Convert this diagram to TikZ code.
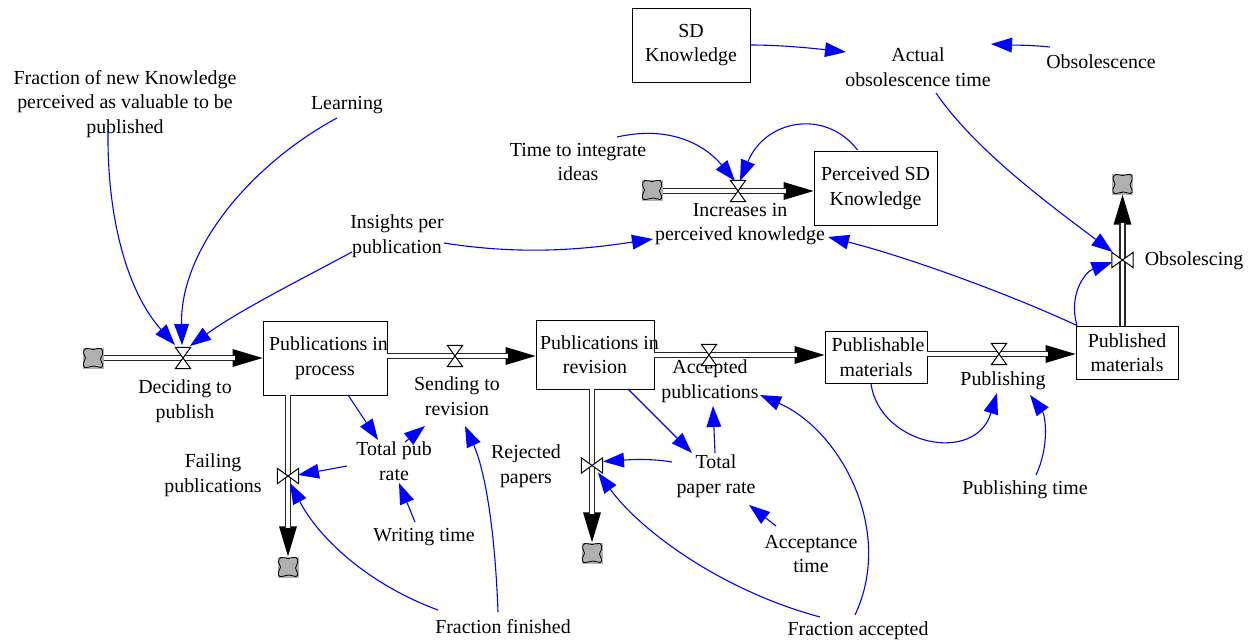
\documentclass[tikz,border=0pt]{standalone}
\usepackage{fontspec}
\setmainfont{Liberation Serif}
\usetikzlibrary{arrows.meta}
\definecolor{linkblue}{RGB}{0,0,255}
\definecolor{cloudgray}{RGB}{176,176,176}
\tikzset{
  x=1pt,y=-1pt,
  every node/.style={font=\fontsize{19.9pt}{24.6pt}\selectfont,align=center,inner sep=0pt,text=black},
  lab/.style={execute at begin node={\rule{0pt}{18pt}}},
  stock/.style={lab,draw=black,line width=0.9pt,fill=white,inner sep=0pt},
  link/.style={draw=linkblue,line width=1.1pt,-{Triangle[length=21pt,width=15pt,fill=linkblue,line width=0pt]}},
  pipe/.style={draw=black!85,line width=1.3pt,double=white,double distance=3.6pt,shorten >=28pt},
  pipehead/.style={draw=black,line width=0.1pt,-{Triangle[length=30pt,width=18pt,fill=black,line width=0pt]}},
  valvebox/.style={minimum width=15pt,minimum height=21pt},
  valveboxv/.style={minimum width=21pt,minimum height=15pt},
  valveline/.style={draw=black,line width=1pt,line join=miter,fill=white},
  cloudbox/.style={fill=cloudgray,minimum width=21pt,minimum height=21pt},
}
\newcommand{\valveH}[2]{\node[valvebox] (#1) at (#2) {};
  \draw[valveline] (#1.north west) -- (#1.north east) -- (#1.center) -- cycle;
  \draw[valveline] (#1.south west) -- (#1.south east) -- (#1.center) -- cycle;}
\newcommand{\valveV}[2]{\node[valveboxv] (#1) at (#2) {};
  \draw[valveline] (#1.north west) -- (#1.south west) -- (#1.center) -- cycle;
  \draw[valveline] (#1.north east) -- (#1.south east) -- (#1.center) -- cycle;}
\newcommand{\cloudat}[2]{\node[cloudbox] (#1) at (#2) {};
  \draw[black,line width=0.8pt,shift={(#1.center)}] plot[smooth cycle,tension=0.75] coordinates
  {(-7,-9.5) (0,-8.5) (8,-9.5) (9.5,-4) (7.5,1) (9.5,6) (8,9.5) (1,8) (-8,9.5) (-9.5,5) (-7.5,0) (-9.5,-5)};}
\begin{document}
\begin{tikzpicture}
\useasboundingbox[fill=white] (0,0) rectangle (1252,642);

% clouds and stocks
\cloudat{c1}{93,358}
\cloudat{c2}{288,567}
\cloudat{c3}{592,553}
\cloudat{c4}{1122.5,184}
\cloudat{c5}{652,190}

\node[stock,minimum width=124pt,minimum height=74pt] (P1) at (325,358) {\makebox[100pt][c]{\kern7pt Publications in}\\process};
\node[stock,minimum width=118pt,minimum height=69pt] (P2) at (595,354.5) {\makebox[100pt][c]{\kern9pt Publications in}\\revision};
\node[stock,minimum width=102pt,minimum height=52pt] (P3) at (876,357) {\makebox[85pt][c]{\kern4pt Publishable}\\materials};
\node[stock,minimum width=102pt,minimum height=53pt] (P4) at (1127,352.5) {Published\\materials};
\node[stock,minimum width=118pt,minimum height=74pt] (SD) at (691,45) {SD\\Knowledge};
\node[stock,minimum width=123pt,minimum height=74pt] (PK) at (875.5,188) {Perceived SD\\Knowledge};

% labels
\node[lab] (frac) at (125,104) {Fraction of new Knowledge\\perceived as valuable to be\\published};
\node[lab] (learn) at (347,103) {Learning};
\node[lab] (ins) at (397,236) {Insights per\\publication};
\node[lab] (actual) at (918,67) {Actual\\obsolescence time};
\node[lab] (obs) at (1101,60) {Obsolescence};
\node[lab] (tti) at (578,162) {Time to integrate\\ideas};
\node[lab] (inc) at (740,224) {Increases in\\perceived knowledge};
\node[lab] (obsg) at (1194,259) {Obsolescing};
\node[lab] (acc) at (710,381) {Accepted\\publications};
\node[lab] (pubg) at (1003,379) {Publishing};
\node[lab] (dec) at (185,401) {Deciding to\\publish};
\node[lab] (send) at (457,396) {Sending to\\revision};
\node[lab] (tpr) at (394,461) {Total pub\\rate};
\node[lab] (rej) at (526,466) {Rejected\\papers};
\node[lab] (fail) at (213,475) {Failing\\publications};
\node[lab] (write) at (424,535) {Writing time};
\node[lab] (tpa) at (716,476) {Total\\paper rate};
\node[lab] (actime) at (811,554) {Acceptance\\time};
\node[lab] (ffin) at (503,625) {Fraction finished};
\node[lab] (facc) at (858,629) {Fraction accepted};
\node[lab] (ptime) at (1025,488) {Publishing time};

% valve centres
\coordinate (v1p) at (183,358);
\coordinate (v2p) at (455,356);
\coordinate (v3p) at (709,355);
\coordinate (v4p) at (999,354);
\coordinate (v5p) at (288,476);
\coordinate (v6p) at (592,465.5);
\coordinate (v7p) at (1122.5,260);
\coordinate (v8p) at (738,191);

% pipes
\draw[pipehead] (c1.east |- v1p) -- (P1.west |- v1p);
\draw[pipe] (c1.east |- v1p) -- (P1.west |- v1p);
\draw[pipehead] (P1.east |- v2p) -- (P2.west |- v2p);
\draw[pipe] (P1.east |- v2p) -- (P2.west |- v2p);
\draw[pipehead] (P2.east |- v3p) -- (P3.west |- v3p);
\draw[pipe] (P2.east |- v3p) -- (P3.west |- v3p);
\draw[pipehead] (P3.east |- v4p) -- (P4.west |- v4p);
\draw[pipe] (P3.east |- v4p) -- (P4.west |- v4p);
\draw[pipehead] (v5p |- P1.south) -- (v5p |- c2.north);
\draw[pipe] (v5p |- P1.south) -- (v5p |- c2.north);
\draw[pipehead] (v6p |- P2.south) -- (v6p |- c3.north);
\draw[pipe] (v6p |- P2.south) -- (v6p |- c3.north);
\draw[pipehead] (v7p |- P4.north) -- (v7p |- c4.south);
\draw[pipe] (v7p |- P4.north) -- (v7p |- c4.south);
\draw[pipehead] (c5.east |- v8p) -- (PK.west |- v8p);
\draw[pipe] (c5.east |- v8p) -- (PK.west |- v8p);

% valves
\valveH{v1}{v1p}
\valveH{v2}{v2p}
\valveH{v3}{v3p}
\valveH{v4}{v4p}
\valveV{v5}{v5p}
\valveV{v6}{v6p}
\valveV{v7}{v7p}
\valveH{v8}{v8p}

% links
\draw[link] ([shift={(-17,27)}]frac.center) .. controls (107,225) and (130,295) .. ([shift={(-8,-13)}]v1.center);
\draw[link] ([shift={(-10,15)}]learn.center) .. controls (250,165) and (180,250) .. ([shift={(-1,-13)}]v1.center);
\draw[link] ([shift={(-45,16)}]ins.center) .. controls (300,280) and (240,310) .. ([shift={(7,-12)}]v1.center);
\draw[link] ([shift={(47,7)}]ins.center) .. controls (520,255) and (580,250) .. ([shift={(-87,15)}]inc.center);
\draw[link] ([shift={(-50,-27)}]P4.center) .. controls (1000,290) and (900,255) .. ([shift={(88,13)}]inc.center);
\draw[link] ([shift={(39,-25)}]tti.center) .. controls (670,125) and (705,145) .. ([shift={(-3,-10)}]v8.center);
\draw[link] ([shift={(-18,-38)}]PK.center) .. controls (825,108) and (765,120) .. ([shift={(2,-10)}]v8.center);
\draw[link] ([shift={(59,0)}]SD.center) .. controls (780,45) and (810,48) .. ([shift={(-72,-15)}]actual.center);
\draw[link] ([shift={(-51,-13)}]obs.center) .. controls (1030,45) and (1010,45) .. ([shift={(73,-23)}]actual.center);
\draw[link] ([shift={(18,26)}]actual.center) .. controls (975,150) and (1050,205) .. ([shift={(-10,-8)}]v7.center);
\draw[link] ([shift={(-50,-27)}]P4.center) .. controls (1068,295) and (1085,272) .. ([shift={(-10,2)}]v7.center);
\draw[link] ([shift={(-5,27)}]P3.center) .. controls (880,445) and (975,465) .. ([shift={(-6,14)}]pubg.center);
\draw[link] ([shift={(11,-13)}]ptime.center) .. controls (1050,445) and (1045,415) .. ([shift={(27,16)}]pubg.center);
\draw[link] ([shift={(23,37)}]P1.center) -- ([shift={(-16,-21)}]tpr.center);
\draw[link] ([shift={(-47,5)}]tpr.center) -- ([shift={(10,-1)}]v5.center);
\draw[link] ([shift={(-9,-13)}]write.center) -- ([shift={(5,22)}]tpr.center);
\draw[link] ([shift={(11,-19)}]tpr.center) -- ([shift={(-32,30)}]send.center);
\draw[link] ([shift={(-5,-13)}]ffin.center) .. controls (495,530) and (485,470) .. ([shift={(8,30)}]send.center);
\draw[link] ([shift={(-65,-15)}]ffin.center) .. controls (370,585) and (320,540) .. ([shift={(2,7)}]v5.center);
\draw[link] ([shift={(33,34.5)}]P2.center) -- ([shift={(-24,-23)}]tpa.center);
\draw[link] ([shift={(-44,-14)}]tpa.center) .. controls (650,458) and (625,460) .. ([shift={(11,-4)}]v6.center);
\draw[link] ([shift={(-1,-23)}]tpa.center) -- ([shift={(3,25)}]acc.center);
\draw[link] ([shift={(-35,-28)}]actime.center) -- ([shift={(33,29)}]tpa.center);
\draw[link] ([shift={(-38,-12)}]facc.center) .. controls (720,590) and (640,530) .. ([shift={(6,7)}]v6.center);
\draw[link] ([shift={(-3,-14)}]facc.center) .. controls (895,530) and (840,430) .. ([shift={(50,14)}]acc.center);
\end{tikzpicture}
\end{document}
